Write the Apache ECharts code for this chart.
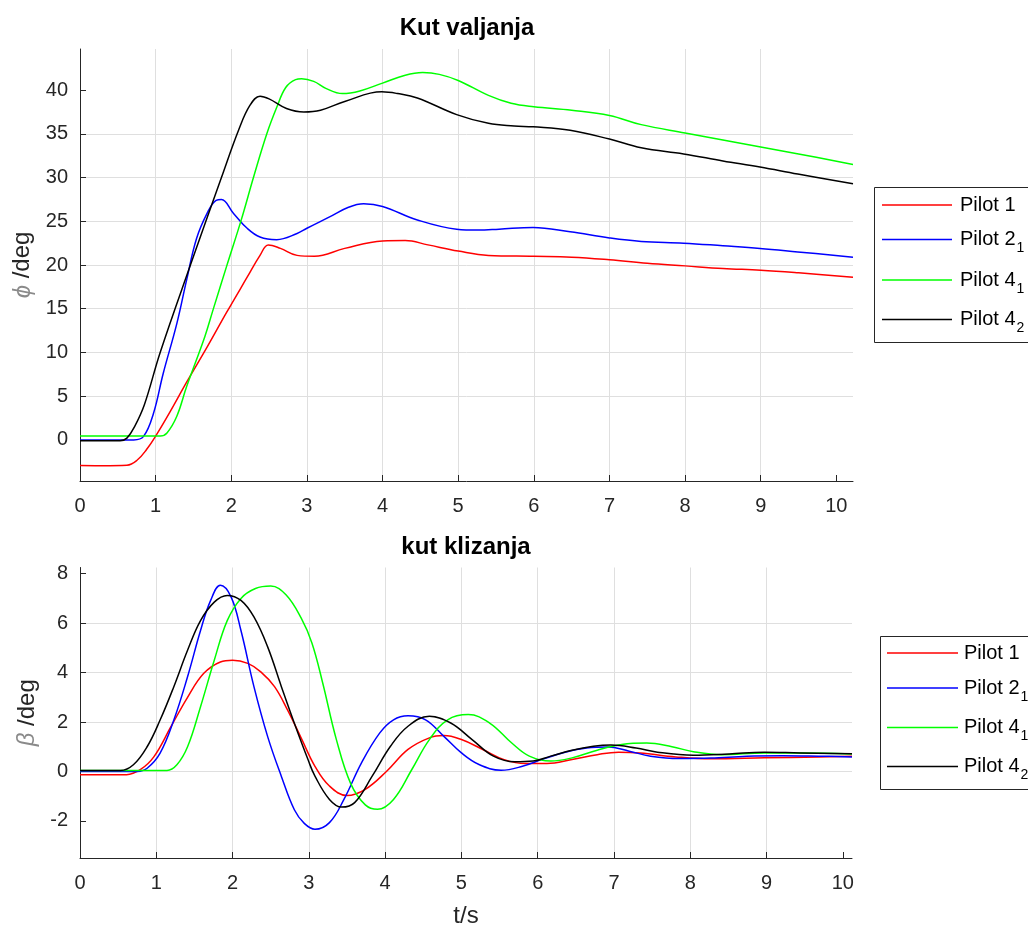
<!DOCTYPE html>
<html><head><meta charset="utf-8">
<script src="https://cdn.jsdelivr.net/npm/echarts@6/dist/echarts.min.js"></script>
<style>html,body{margin:0;padding:0;background:#fff}#c{width:1028px;height:929px}</style>
</head><body><div id="c"></div>
<script>
// ---------- data ----------
const seriesNames = ['Pilot 1', 'Pilot 2', 'Pilot 4', 'Pilot 4'];
const seriesSubs  = ['', '1', '1', '2'];
const seriesColors = ['#ff0000', '#0000ff', '#00ff00', '#000000'];

const xTicks = [0,1,2,3,4,5,6,7,8,9,10];
const rollTicks = [0,5,10,15,20,25,30,35,40];
const slipTicks = [-2,0,2,4,6,8];

// Kut valjanja (phi, deg)
const rollT_P1 = [0,0.3,0.62,0.75,0.88,1.01,1.19,1.41,1.68,1.94,2.21,2.38,2.49,2.65,2.87,3.1,3.5,4.0,4.3,4.6,5.0,5.4,6.0,6.5,7.0,7.5,8.0,8.5,9.0,9.5,10.22];
const rollV_P1 = [-2.93,-2.95,-2.9,-2.36,-1.1,0.57,3.2,6.6,10.6,14.6,18.6,21.1,22.3,21.9,21.1,21.0,21.9,22.75,22.8,22.3,21.6,21.1,21.0,20.9,20.6,20.2,19.9,19.6,19.4,19.1,18.6];

const rollT_P2 = [0,0.71,0.84,0.97,1.1,1.28,1.41,1.54,1.68,1.8,1.87,2.03,2.21,2.38,2.6,2.87,3.0,3.3,3.55,3.75,4.0,4.46,4.98,5.26,5.54,5.99,6.48,7.0,7.42,7.98,8.5,8.99,9.49,10.22];
const rollV_P2 = [0,0,0.4,3.0,7.6,13.3,18.3,23.0,25.9,27.4,27.5,25.9,24.2,23.2,22.9,23.6,24.2,25.5,26.6,27.0,26.7,25.15,24.1,24.0,24.1,24.3,23.8,23.1,22.7,22.5,22.2,21.9,21.5,20.9];

const rollT_P41 = [0,1.06,1.15,1.28,1.41,1.65,1.76,1.94,2.13,2.3,2.47,2.6,2.72,2.85,2.93,3.09,3.25,3.47,3.7,4.0,4.3,4.53,4.75,5.0,5.4,5.7,6.0,6.5,7.0,7.42,8.0,8.5,9.0,9.5,10.22];
const rollV_P41 = [0.45,0.45,0.8,2.7,6.1,11.8,14.9,19.9,25.1,30.2,35.0,38.0,40.3,41.2,41.3,41.0,40.2,39.6,39.9,40.8,41.7,42.0,41.8,41.1,39.4,38.5,38.1,37.7,37.1,36.05,35.1,34.3,33.5,32.7,31.5];

const rollT_P42 = [0,0.53,0.62,0.72,0.85,1.06,1.46,1.87,2.1,2.25,2.38,2.5,2.73,2.96,3.18,3.5,3.99,4.2,4.46,4.98,5.4,5.74,5.99,6.48,7.0,7.42,7.98,8.5,8.99,9.49,10.22];
const rollV_P42 = [-0.1,-0.1,0.2,1.5,4.0,10.0,20.0,30.0,35.5,38.3,39.3,39.0,37.9,37.5,37.7,38.7,39.8,39.6,39.1,37.2,36.2,35.9,35.8,35.4,34.4,33.4,32.7,31.9,31.2,30.4,29.3];

// kut klizanja (beta, deg)
const slipT_P1 = [0,0.61,0.79,0.97,1.19,1.41,1.62,1.84,2.0,2.2,2.37,2.55,2.72,2.9,3.08,3.27,3.5,3.74,4.02,4.3,4.58,4.77,5.0,5.28,5.56,5.84,6.12,6.45,6.78,7.06,7.34,7.81,8.27,8.97,9.68,10.12];
const slipV_P1 = [-0.13,-0.13,0.07,0.6,1.8,3.0,3.96,4.43,4.5,4.37,4.03,3.43,2.49,1.35,0.21,-0.59,-0.97,-0.72,0.01,0.89,1.36,1.45,1.29,0.89,0.48,0.32,0.32,0.48,0.68,0.78,0.75,0.59,0.51,0.55,0.59,0.62];

const slipT_P2 = [0,0.75,0.88,1.05,1.23,1.41,1.58,1.71,1.84,1.98,2.11,2.28,2.46,2.64,2.81,2.94,3.08,3.27,3.46,3.69,3.93,4.11,4.3,4.53,4.77,5.0,5.23,5.52,5.8,6.08,6.36,6.64,6.92,7.2,7.48,7.85,8.27,8.74,9.21,9.68,10.12];
const slipV_P2 = [0,0,0.13,0.74,2.08,3.83,5.7,6.9,7.53,7.06,5.7,3.43,1.41,-0.2,-1.55,-2.1,-2.34,-2.07,-1.13,0.35,1.56,2.09,2.25,2.09,1.42,0.75,0.28,0.05,0.21,0.51,0.78,0.95,0.99,0.82,0.62,0.52,0.54,0.62,0.64,0.62,0.59];

const slipT_P41 = [0,1.14,1.27,1.41,1.58,1.76,1.93,2.11,2.3,2.5,2.7,2.9,3.04,3.18,3.36,3.55,3.74,3.9,4.11,4.35,4.58,4.82,5.09,5.37,5.66,5.89,6.17,6.45,6.78,7.1,7.43,7.76,8.04,8.41,8.97,9.44,10.12];
const slipV_P41 = [0.04,0.04,0.27,1.0,2.62,4.5,6.1,7.0,7.4,7.5,7.15,6.2,5.2,3.6,1.3,-0.5,-1.35,-1.53,-1.13,0.08,1.29,2.09,2.3,1.96,1.15,0.62,0.42,0.55,0.86,1.09,1.15,1.0,0.8,0.68,0.75,0.75,0.71];

const slipT_P42 = [0,0.53,0.7,0.88,1.05,1.23,1.41,1.58,1.76,1.93,2.11,2.28,2.46,2.64,2.81,2.99,3.08,3.27,3.43,3.6,3.83,4.07,4.3,4.58,4.86,5.14,5.42,5.7,5.94,6.17,6.45,6.73,6.96,7.29,7.57,8.04,8.51,8.97,9.44,10.12];
const slipV_P42 = [0.04,0.04,0.27,1.0,2.08,3.43,4.9,6.1,6.85,7.12,6.92,6.25,5.04,3.43,1.95,0.47,-0.19,-1.13,-1.44,-1.26,-0.19,1.02,1.83,2.23,1.96,1.29,0.62,0.39,0.42,0.62,0.86,1.02,1.07,0.95,0.78,0.66,0.71,0.78,0.75,0.72];

// ---------- chart ----------
const FONT = '"Liberation Sans", Arial, Helvetica, sans-serif';
const INK = '#262626';
const GRIDC = '#dfdfdf';
const zip = (t, v) => t.map((x, i) => [x, v[i]]);

const rollData = [zip(rollT_P1, rollV_P1), zip(rollT_P2, rollV_P2), zip(rollT_P41, rollV_P41), zip(rollT_P42, rollV_P42)];
const slipData = [zip(slipT_P1, slipV_P1), zip(slipT_P2, slipV_P2), zip(slipT_P41, slipV_P41), zip(slipT_P42, slipV_P42)];

function xAxisCfg(gi, max, name) {
  return {
    type: 'value', gridIndex: gi, min: 0, max: max,
    axisLine: { show: true, onZero: false, lineStyle: { color: INK, width: 1 } },
    axisTick: { show: true, inside: true, length: 6, customValues: xTicks, lineStyle: { color: INK } },
    axisLabel: { customValues: xTicks, margin: 15, color: INK, fontSize: 20, fontFamily: FONT },
    splitLine: { show: true, showMinLine: false, showMaxLine: false, lineStyle: { color: GRIDC, width: 1 } },
    name: name || '', nameLocation: 'middle', nameGap: 46,
    nameTextStyle: { color: INK, fontSize: 24, fontFamily: FONT }
  };
}
function yAxisCfg(gi, min, max, ticks, greek) {
  return {
    type: 'value', gridIndex: gi, min: min, max: max,
    axisLine: { show: true, onZero: false, lineStyle: { color: INK, width: 1 } },
    axisTick: { show: true, inside: true, length: 6, customValues: ticks, lineStyle: { color: INK } },
    axisLabel: { customValues: ticks, margin: 12, color: INK, fontSize: 20, fontFamily: FONT },
    splitLine: { show: true, showMinLine: false, showMaxLine: false, lineStyle: { color: GRIDC, width: 1 } },
    name: '{g|' + greek + '} /deg', nameLocation: 'middle', nameGap: 38,
    nameTextStyle: { color: INK, fontSize: 24, fontFamily: FONT,
      rich: { g: { fontStyle: 'italic', color: '#8a8a8a', fontSize: 24, fontFamily: FONT } } }
  };
}

const series = [];
for (let k = 0; k < 4; k++) {
  series.push({ type: 'line', xAxisIndex: 0, yAxisIndex: 0, data: rollData[k], smooth: 0.4,
    showSymbol: false, lineStyle: { color: seriesColors[k], width: 1.5 }, silent: true });
}
for (let k = 0; k < 4; k++) {
  series.push({ type: 'line', xAxisIndex: 1, yAxisIndex: 1, data: slipData[k], smooth: 0.4,
    showSymbol: false, lineStyle: { color: seriesColors[k], width: 1.5 }, silent: true });
}

// legend boxes (drawn as graphics to reproduce subscripts)
const measure = (() => {
  const c = document.createElement('canvas').getContext('2d');
  return (txt, size) => { c.font = size + 'px ' + FONT; return c.measureText(txt).width; };
})();
function legendBox(x, y, h, rowsY, lineX0, lineX1, textX) {
  const els = [{ type: 'rect', shape: { x: x, y: y, width: 300, height: h },
    style: { fill: '#fff', stroke: INK, lineWidth: 1 } }];
  for (let k = 0; k < 4; k++) {
    els.push({ type: 'line', shape: { x1: lineX0, y1: rowsY[k], x2: lineX1, y2: rowsY[k] },
      style: { stroke: seriesColors[k], lineWidth: 1.5 } });
    els.push({ type: 'text', x: textX, y: rowsY[k],
      style: { text: seriesNames[k], fill: '#000', font: '20px ' + FONT, textVerticalAlign: 'middle' } });
    if (seriesSubs[k]) {
      els.push({ type: 'text', x: textX + measure(seriesNames[k], 20) + 1, y: rowsY[k] + 9,
        style: { text: seriesSubs[k], fill: '#000', font: '14px ' + FONT, textVerticalAlign: 'middle' } });
    }
  }
  return { type: 'group', children: els };
}

const chart = echarts.init(document.getElementById('c'), null, { renderer: 'canvas' });
chart.setOption({
  animation: false,
  backgroundColor: '#fff',
  title: [
    { text: 'Kut valjanja', left: 467, top: 16, textAlign: 'center', padding: 0,
      textStyle: { fontSize: 24, fontWeight: 'bold', color: '#000', fontFamily: FONT } },
    { text: 'kut klizanja', left: 466, top: 535, textAlign: 'center', padding: 0,
      textStyle: { fontSize: 24, fontWeight: 'bold', color: '#000', fontFamily: FONT } }
  ],
  grid: [
    { left: 80, top: 49, width: 773, height: 432 },
    { left: 80, top: 567.5, width: 772, height: 291.5 }
  ],
  xAxis: [ xAxisCfg(0, 10.22), xAxisCfg(1, 10.12, 't/s') ],
  yAxis: [ yAxisCfg(0, -4.7, 44.7, rollTicks, 'ϕ'), yAxisCfg(1, -3.5, 8.25, slipTicks, 'β') ],
  series: series,
  graphic: [
    legendBox(874.5, 187.5, 155, [205, 239.5, 280, 319.5], 882, 952, 960),
    legendBox(880.5, 636.5, 153, [653, 688, 727.5, 766.5], 887, 958, 964)
  ]
});
</script>
</body></html>
